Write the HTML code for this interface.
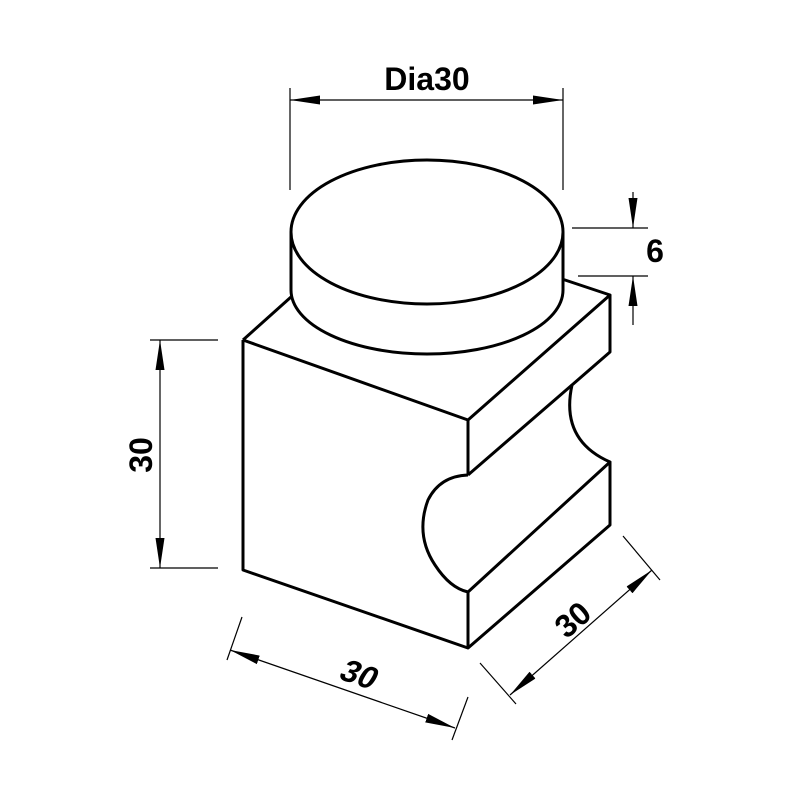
<!DOCTYPE html>
<html><head><style>html,body{margin:0;padding:0;background:#fff}svg{display:block}</style></head><body>
<svg width="800" height="800" viewBox="0 0 800 800" xmlns="http://www.w3.org/2000/svg">
<defs>
<marker id="a" viewBox="0 0 30 10" refX="30" refY="5" markerWidth="30" markerHeight="10" markerUnits="userSpaceOnUse" orient="auto-start-reverse"><path d="M0,0.5 L30,5 L0,9.5 z" fill="#000"/></marker>
</defs>
<g fill="none" stroke="#000" stroke-width="3" stroke-linejoin="round">
<path d="M243,340 L468,420 L610,295 L562,279"/>
<path d="M243,340 L291,297"/>
<path d="M243,340 L243,570 L468,648 L610,525 L610,462"/>
<path d="M468,420 L468,475"/>
<path d="M610,295 L610,352 L572,385 Q560,440 610,462 L468,592"/>
<path d="M468,475 L572,385"/>
<path d="M468,475 Q440,476 428,500 Q415,535 435,565 Q450,588 468,592 L468,648"/>
<ellipse cx="427" cy="232" rx="136" ry="72" fill="#fff"/>
<path d="M291,232 L291,290 A136,64 0 0 0 563,290 L563,232"/>
</g>
<g fill="none" stroke="#000" stroke-width="1.2">
<line x1="290" y1="88" x2="290" y2="190"/>
<line x1="563" y1="88" x2="563" y2="190"/>
<line x1="290" y1="100" x2="563" y2="100" marker-start="url(#a)" marker-end="url(#a)"/>
<line x1="572" y1="228" x2="648" y2="228"/>
<line x1="578" y1="276" x2="648" y2="276"/>
<line x1="633" y1="192" x2="633" y2="228" marker-end="url(#a)"/>
<line x1="633" y1="325" x2="633" y2="276" marker-end="url(#a)"/>
<line x1="150" y1="340" x2="218" y2="340"/>
<line x1="150" y1="568" x2="218" y2="568"/>
<line x1="160" y1="340" x2="160" y2="568" marker-start="url(#a)" marker-end="url(#a)"/>
<line x1="242" y1="617" x2="227" y2="660"/>
<line x1="468" y1="697" x2="452" y2="740"/>
<line x1="230" y1="650" x2="455" y2="728" marker-start="url(#a)" marker-end="url(#a)"/>
<line x1="623" y1="536" x2="660" y2="580"/>
<line x1="480" y1="663" x2="516" y2="704"/>
<line x1="510" y1="695" x2="652" y2="570" marker-start="url(#a)" marker-end="url(#a)"/>
</g>
<g font-family="Liberation Sans, sans-serif" font-weight="bold" font-size="32" fill="#000" text-anchor="middle">
<text x="427" y="90">Dia30</text>
<text x="655" y="262">6</text>
<text transform="translate(152,455) rotate(-90)">30</text>
<text transform="translate(354,684) rotate(19) skewX(-12)">30</text>
<text transform="translate(580,628) rotate(-41)">30</text>
</g>
</svg>
</body></html>
